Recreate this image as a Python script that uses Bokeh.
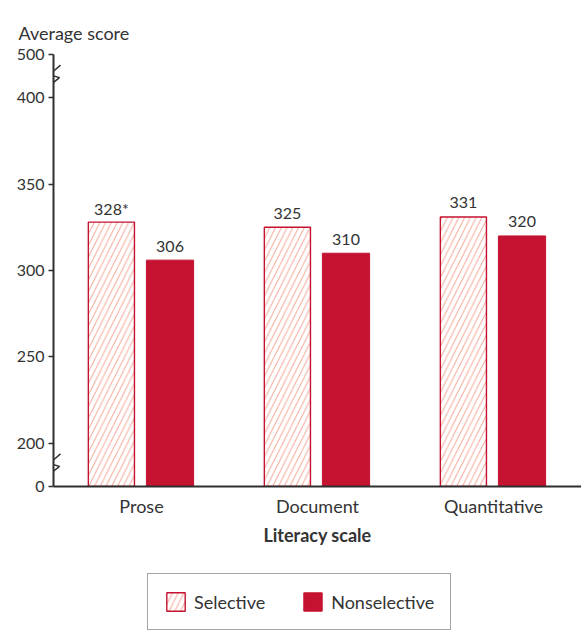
from bokeh.plotting import figure
from bokeh.layouts import column
from bokeh.models import (FactorRange, Range1d, FixedTicker, Legend, LegendItem,
                          ColumnDataSource)
from bokeh.transform import dodge
from bokeh.core.properties import value
from bokeh.embed import file_html
from bokeh.resources import INLINE

# ---------------- data ----------------
categories = ["Prose", "Document", "Quantitative"]
series_names = ["Selective", "Nonselective"]
selective = [328, 325, 331]
nonselective = [306, 310, 320]
selective_labels = ["328*", "325", "331"]
nonselective_labels = ["306", "310", "320"]
tick_values = [0, 200, 250, 300, 350, 400, 500]
x_title = "Literacy scale"
y_title = "Average score"

# ---------------- broken axis mapping ----------------
BREAK_LOW, BREAK_HIGH, GAP = 200, 400, 25


def to_axis(v):
    if v < BREAK_LOW:
        return BREAK_LOW - GAP
    if v > BREAK_HIGH:
        return BREAK_HIGH + GAP
    return v


RED = "#C41230"
HATCH = "#F3A898"
AXIS = "#2e2e2e"
TEXT = "#333333"
FONT = "Lato"

FRAME_W, FRAME_H = 528, 432
y_lo, y_hi = to_axis(tick_values[0]), to_axis(tick_values[-1])

SEL_STYLE = dict(fill_color="white", line_color=RED, line_width=1.4,
                 hatch_pattern="/", hatch_color=HATCH, hatch_scale=11.5,
                 hatch_weight=1)
NON_STYLE = dict(fill_color=RED, line_color=RED, line_width=1)

p = figure(x_range=FactorRange(*categories, range_padding=0),
           y_range=Range1d(y_lo, y_hi),
           width=581, height=560, output_backend="svg", toolbar_location=None,
           min_border_left=53, min_border_right=0, min_border_top=54,
           min_border_bottom=74)
p.background_fill_color = "white"
p.border_fill_color = "white"
p.outline_line_color = None
p.xgrid.visible = False
p.ygrid.visible = False

src = ColumnDataSource(dict(cat=categories, sel=selective, non=nonselective,
                            sel_lab=selective_labels, non_lab=nonselective_labels))

p.vbar(x=dodge("cat", -0.171, range=p.x_range), top="sel", bottom=y_lo,
       width=0.262, source=src, **SEL_STYLE)
p.vbar(x=dodge("cat", 0.162, range=p.x_range), top="non", bottom=y_lo,
       width=0.268, source=src, **NON_STYLE)

for xo, col, lab in [(-0.171, "sel", "sel_lab"), (0.162, "non", "non_lab")]:
    p.text(x=dodge("cat", xo, range=p.x_range), y=col, text=lab, source=src,
           text_align="center", text_baseline="alphabetic", y_offset=-14,
           text_font=value(FONT), text_font_size="16px", text_color=TEXT)

# axes
yax = p.yaxis[0]
yax.ticker = FixedTicker(ticks=[to_axis(t) for t in tick_values])
yax.major_label_overrides = {to_axis(t): str(t) for t in tick_values}
yax.axis_line_color = AXIS
yax.axis_line_width = 2
yax.major_tick_line_color = AXIS
yax.major_tick_line_width = 1.5
yax.major_tick_in = 0
yax.major_tick_out = 5
yax.minor_tick_line_color = None
yax.major_label_standoff = 4
yax.major_label_text_font = FONT
yax.major_label_text_font_size = "16px"
yax.major_label_text_color = TEXT

xax = p.xaxis[0]
xax.axis_line_color = AXIS
xax.axis_line_width = 2
xax.major_tick_line_color = None
xax.major_tick_in = 0
xax.major_tick_out = 0
xax.minor_tick_line_color = None
xax.major_label_standoff = 8
xax.major_label_text_font = FONT
xax.major_label_text_font_size = "18px"
xax.major_label_text_color = TEXT
xax.axis_label = x_title
xax.axis_label_text_font = FONT
xax.axis_label_text_font_size = "18px"
xax.axis_label_text_font_style = "bold"
xax.axis_label_text_color = TEXT
xax.axis_label_standoff = 4

# title (y axis caption)
p.title.text = y_title
p.title.text_font = FONT
p.title.text_font_size = "18px"
p.title.text_font_style = "normal"
p.title.text_color = TEXT
p.title.align = "left"
p.title.offset = -35
p.title.standoff = 22

# axis break marks: pixel offsets around the y-axis line, converted to
# synthetic categorical x units and axis y units
PX_PER_CAT = FRAME_W / len(categories)
PX_PER_UNIT = FRAME_H / (y_hi - y_lo)
zig_dx = [-6, 6, -4, 7]
zig_dy = [11, 1.5, -1.5, -11]
for centre in [(y_lo + BREAK_LOW) / 2, (BREAK_HIGH + y_hi) / 2]:
    p.line(x=[d / PX_PER_CAT for d in zig_dx],
           y=[centre - d / PX_PER_UNIT for d in zig_dy],
           line_color=AXIS, line_width=1.4)

# ---------------- legend strip ----------------
leg_fig = figure(width=581, height=75, output_backend="svg",
                 toolbar_location=None, x_axis_location=None,
                 y_axis_location=None, x_range=Range1d(0, 1),
                 y_range=Range1d(0, 1), min_border=0)
leg_fig.outline_line_color = None
leg_fig.xgrid.visible = False
leg_fig.ygrid.visible = False
leg_fig.background_fill_color = "white"
leg_fig.border_fill_color = "white"
# one hidden swatch per series (only its legend glyph is shown)
leg_src = ColumnDataSource(dict(x=[0.5], top=[0.5]))
l_sel = leg_fig.vbar(x="x", top="top", width=0.1, source=leg_src,
                     visible=False, **SEL_STYLE)
l_non = leg_fig.vbar(x="x", top="top", width=0.1, source=leg_src,
                     visible=False, **NON_STYLE)

legend = Legend(items=[LegendItem(label=series_names[0], renderers=[l_sel]),
                       LegendItem(label=series_names[1], renderers=[l_non])],
                orientation="horizontal", location=(94, 5),
                glyph_width=23, glyph_height=23, label_standoff=7, spacing=36,
                padding=16, margin=0, click_policy="none",
                inactive_fill_alpha=0,
                label_text_font=FONT, label_text_font_size="18px",
                label_text_color=TEXT, border_line_color="#4a4a4a",
                border_line_width=1.5, background_fill_color="white")
leg_fig.add_layout(legend, "center")

layout = column(p, leg_fig, spacing=0)
open("out.html", "w").write(file_html(layout, INLINE))
